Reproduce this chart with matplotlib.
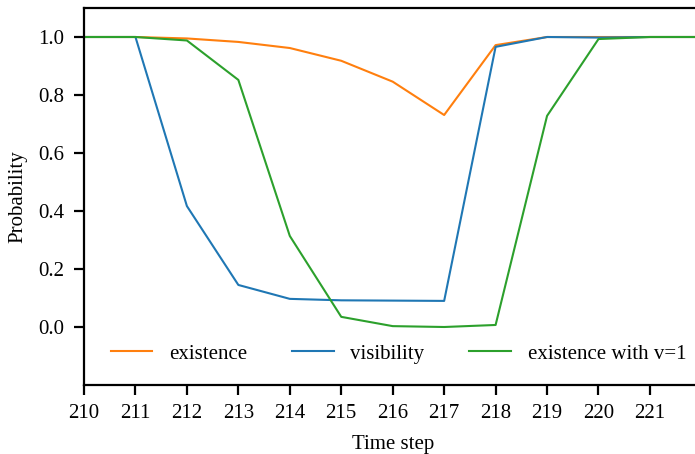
import matplotlib
matplotlib.use("Agg")
import matplotlib.pyplot as plt

steps = [210, 211, 212, 213, 214, 215, 216, 217, 218, 219, 220, 221, 222]
existence = [1.0, 1.0, 0.995, 0.983, 0.962, 0.918, 0.846, 0.731, 0.972, 1.0, 1.0, 1.0, 1.0]
visibility = [1.0, 1.0, 0.417, 0.145, 0.097, 0.092, 0.091, 0.090, 0.966, 1.0, 0.998, 1.0, 1.0]
existence_v1 = [1.0, 1.0, 0.988, 0.852, 0.314, 0.035, 0.003, 0.0, 0.007, 0.728, 0.993, 1.0, 1.0]
xticks = list(range(210, 222))
yticks = [0.0, 0.2, 0.4, 0.6, 0.8, 1.0]

plt.rcParams['font.family'] = ['Liberation Serif', 'DejaVu Serif']
plt.rcParams['font.size'] = 15

fig = plt.figure(figsize=(6.95, 4.54), dpi=100)
ax = fig.add_axes([84/695, 1-385/454, (701.4-84)/695, (385-8)/454])

ax.plot(steps, existence, color='#ff7f0e', lw=1.5, label='existence')
ax.plot(steps, visibility, color='#1f77b4', lw=1.5, label='visibility')
ax.plot(steps, existence_v1, color='#2ca02c', lw=1.5, label='existence with v=1')

ax.set_xlim(210, 222)
ax.set_ylim(-0.2, 1.1)
ax.set_xticks(xticks)
ax.set_yticks(yticks)
ax.set_yticklabels([f"{v:.1f}" for v in yticks])
ax.set_xlabel('Time step', labelpad=8)
ax.set_ylabel('Probability', labelpad=8)
ax.spines['right'].set_visible(False)
for s in ['left', 'bottom', 'top']:
    ax.spines[s].set_linewidth(1.6)
ax.tick_params(width=1.6, length=7, labelsize=15, pad=7)
ax.legend(loc='lower left', ncol=3, frameon=False, bbox_to_anchor=(0.013, 0.007),
          handlelength=2.0, handletextpad=0.8, columnspacing=2.15, fontsize=15)

fig.savefig('out.png', dpi=100)
